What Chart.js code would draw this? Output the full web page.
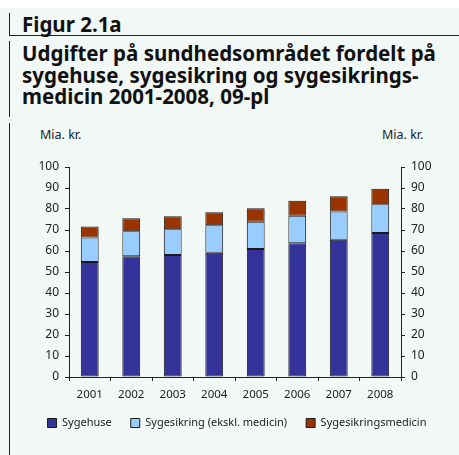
<!DOCTYPE html>
<html>
<head>
<meta charset="utf-8">
<script src="https://cdn.jsdelivr.net/npm/chart.js@4"></script>
<style>
  html, body { margin: 0; padding: 0; }
  body { width: 459px; height: 455px; background: #f1f8f6; position: relative; overflow: hidden; font-family: "Noto Sans", sans-serif; color: #111; }
  .topstrip { position: absolute; left: 0; top: 0; width: 459px; height: 8px; background: #fff; }
  .vline { position: absolute; left: 9px; width: 1px; background: #222; }
  .hline { position: absolute; left: 9px; top: 35px; width: 450px; height: 1px; background: #222; }
  .fig { position: absolute; left: 22px; top: 14px; font-size: 20.5px; font-weight: bold; line-height: 21.7px; white-space: nowrap; }
  .title { position: absolute; left: 22px; top: 43px; font-size: 20.5px; font-weight: bold; line-height: 21.7px; white-space: nowrap; }
  .unit { position: absolute; top: 127px; font-size: 12.5px; line-height: 15px; color: #222; }
  canvas { position: absolute; left: 0; top: 150px; }
</style>
</head>
<body>
<div class="topstrip"></div>
<div class="vline" style="top:13px;height:22px"></div>
<div class="vline" style="top:41px;height:76px"></div>
<div class="vline" style="top:123px;height:332px"></div>
<div class="hline"></div>
<div class="fig">Figur 2.1a</div>
<div class="title">Udgifter på sundhedsområdet fordelt på<br>sygehuse, sygesikring og sygesikrings-<br>medicin 2001-2008, 09-pl</div>
<div class="unit" style="left:40px">Mia. kr.</div>
<div class="unit" style="left:382px">Mia. kr.</div>
<canvas id="chart" width="459" height="305"></canvas>
<script>
document.addEventListener('DOMContentLoaded', init);

// data (mia. kr.)
const years = ['2001', '2002', '2003', '2004', '2005', '2006', '2007', '2008'];
const sygehuse = [54.8, 57.5, 58.1, 59.2, 61.0, 63.7, 65.4, 68.6];
const sygesikring = [11.6, 11.9, 12.3, 13.1, 12.9, 13.1, 13.4, 13.7];
const medicin = [5.3, 6.2, 6.2, 6.2, 6.5, 7.1, 7.3, 7.3];
const seriesNames = ['Sygehuse', 'Sygesikring (ekskl. medicin)', 'Sygesikringsmedicin'];

function init() {
    const ctx = document.getElementById('chart').getContext('2d');
    const font = { family: '"Noto Sans", sans-serif', size: 12 };

    const yAxis = (pos, w) => ({
        type: 'linear',
        position: pos,
        stacked: true,
        min: 0,
        max: 100,
        ticks: { stepSize: 10, color: '#222', font: font, padding: 6 },
        grid: { drawOnChartArea: false, tickLength: 4, color: '#222' },
        border: { display: true, color: '#222', width: 1 },
        afterFit: function(scale) { scale.width = w; }
    });

    new Chart(ctx, {
        type: 'bar',
        data: {
            labels: years,
            datasets: [
                { label: seriesNames[0], data: sygehuse, backgroundColor: '#333399' },
                { label: seriesNames[1], data: sygesikring, backgroundColor: '#99ccff' },
                { label: seriesNames[2], data: medicin, backgroundColor: '#993300' }
            ].map(d => Object.assign(d, {
                borderColor: '#1a1a1a',
                borderWidth: 1,
                borderSkipped: false,
                categoryPercentage: 1,
                barPercentage: 0.43
            }))
        },
        options: {
            responsive: false,
            animation: false,
            layout: { padding: { top: 17, left: 15, right: 0, bottom: 16.5 } },
            scales: {
                x: {
                    stacked: true,
                    offset: true,
                    ticks: { color: '#222', font: { family: font.family, size: 11.5 }, padding: 7 },
                    grid: { offset: true, drawOnChartArea: false, tickLength: 4, color: '#222' },
                    border: { display: true, color: '#222', width: 1 },
                    afterFit: function(scale) { scale.height = 21.5; }
                },
                y: yAxis('left', 54),
                y2: yAxis('right', 58)
            },
            plugins: {
                legend: {
                    position: 'bottom',
                    labels: {
                        boxWidth: 9,
                        boxHeight: 9,
                        padding: 19,
                        color: '#222',
                        font: { family: font.family, size: 11 }
                    }
                },
                tooltip: { enabled: false }
            }
        }
    });
}
</script>
</body>
</html>
